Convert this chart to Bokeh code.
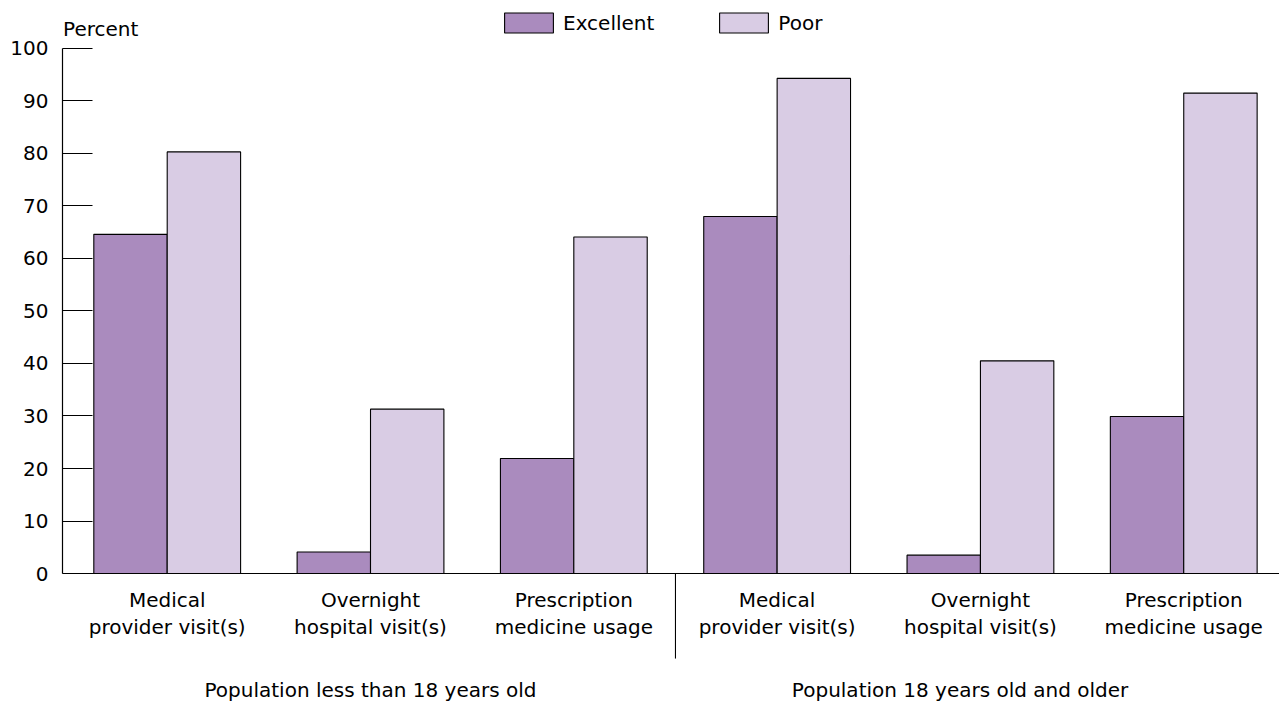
from bokeh.plotting import figure
from bokeh.models import ColumnDataSource, FixedTicker, Label, Legend, LegendItem
from bokeh.core.properties import value
from bokeh.embed import file_html
from bokeh.resources import INLINE

categories = ["Medical\nprovider visit(s)", "Overnight\nhospital visit(s)", "Prescription\nmedicine usage",
              "Medical\nprovider visit(s)", "Overnight\nhospital visit(s)", "Prescription\nmedicine usage"]
groups = ["Population less than 18 years old", "Population 18 years old and older"]
group_pos = [1.0, 3.9]
excellent = [64.6, 4.1, 21.9, 68.0, 3.5, 29.9]
poor = [80.3, 31.3, 64.1, 94.3, 40.5, 91.5]
y_ticks = list(range(0, 101, 10))

FONT = "DejaVu Sans"
C_EXC = "#AA8BBE"
C_POOR = "#D9CCE4"

xs = list(range(len(categories)))
bw = 0.361
src = ColumnDataSource(dict(
    x=xs,
    xe=[x - bw / 2 for x in xs],
    xp=[x + bw / 2 for x in xs],
    exc=excellent, poor=poor, cat=categories,
    ly=[-7.6] * len(xs),
))

X0, X1 = -0.515, 5.471
p = figure(width=1279, height=702, output_backend="svg", toolbar_location=None,
           x_range=(X0, X1), y_range=(-24.57, 109.14),
           x_axis_location=None, min_border_left=62, min_border_right=0,
           min_border_top=0, min_border_bottom=0)
p.outline_line_color = None
p.grid.visible = False
p.background_fill_color = "white"

r_exc = p.vbar(x="xe", top="exc", bottom=0, width=bw, source=src,
               fill_color=C_EXC, line_color="black", line_width=1.1)
r_poor = p.vbar(x="xp", top="poor", bottom=0, width=bw, source=src,
                fill_color=C_POOR, line_color="black", line_width=1.1)

# baseline
p.segment(x0=[X0], y0=[0], x1=[X1], y1=[0], line_color="black", line_width=1.2)
# group separator
sep_x = len(categories) / 2 - 0.5
p.segment(x0=[sep_x], y0=[0], x1=[sep_x], y1=[-16.2], line_color="black", line_width=1.1)

# category labels
p.text(x="x", y="ly", text="cat", source=src, text_align="center", text_baseline="middle",
       text_font=value(FONT), text_font_size="20px", text_line_height=1.12, text_color="black")
# group labels
p.text(x=group_pos, y=[-22.2, -22.2], text=groups, text_align="center", text_baseline="middle",
       text_font=value(FONT), text_font_size="20px", text_color="black")

ax = p.yaxis[0]
ax.ticker = FixedTicker(ticks=y_ticks)
ax.bounds = (0, 100)
ax.major_tick_in = 30
ax.major_tick_out = 0
ax.minor_tick_line_color = None
ax.axis_line_color = "black"
ax.axis_line_width = 1.2
ax.major_tick_line_color = "black"
ax.major_tick_line_width = 1.2
ax.major_label_text_font = FONT
ax.major_label_text_font_size = "20px"
ax.major_label_text_color = "black"
ax.major_label_standoff = 14

p.add_layout(Label(x=-0.512, y=103.8, text="Percent", text_font=FONT, text_font_size="20px",
                   text_baseline="middle", text_align="left", text_color="black"))

legend = Legend(items=[LegendItem(label="Excellent", renderers=[r_exc]),
                       LegendItem(label="Poor", renderers=[r_poor])],
                orientation="horizontal", location=(436, 667),
                glyph_width=61, glyph_height=25, label_standoff=4, spacing=59,
                padding=0, margin=0, border_line_alpha=0, background_fill_alpha=0,
                label_text_font=FONT, label_text_font_size="20px", label_text_color="black")
p.add_layout(legend)

open("out.html", "w").write(file_html(p, INLINE))
